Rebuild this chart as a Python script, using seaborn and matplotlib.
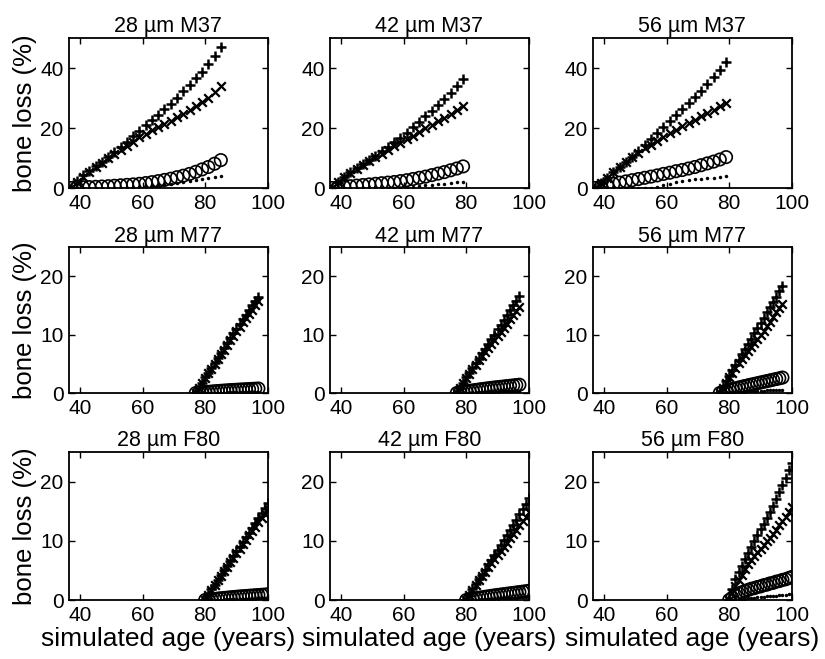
import matplotlib
matplotlib.use("Agg")
import matplotlib.pyplot as plt
import numpy as np
import pandas as pd
import seaborn as sns

# ---- data ----
titles = ["28 \u00b5m M37", "42 \u00b5m M37", "56 \u00b5m M37",
          "28 \u00b5m M77", "42 \u00b5m M77", "56 \u00b5m M77",
          "28 \u00b5m F80", "42 \u00b5m F80", "56 \u00b5m F80"]

age_m37_28 = [37, 39, 41, 43, 45, 47, 49, 51, 53, 55, 57, 59, 61, 63, 65, 67, 69, 71, 73, 75, 77, 79, 81, 83, 85]
plus_m37_28 = [0, 2.3, 4.2, 5.8, 7.3, 8.8, 10.2, 11.9, 13.7, 15.5, 17.3, 19.1, 20.9, 22.7, 24.5, 26.3, 28.1, 30.0, 32.2, 34.4, 36.6, 38.8, 41.3, 44.1, 47.0]
cross_m37_28 = [0, 2.0, 3.8, 5.4, 7.0, 8.5, 9.9, 11.3, 12.7, 14.1, 15.5, 16.9, 18.1, 19.2, 20.3, 21.4, 22.5, 23.6, 24.8, 26.0, 27.3, 28.6, 30.0, 32.0, 34.0]
circ_m37_28 = [0, 0.1, 0.2, 0.3, 0.4, 0.5, 0.6, 0.75, 0.9, 1.05, 1.2, 1.4, 1.65, 1.95, 2.3, 2.7, 3.1, 3.6, 4.1, 4.7, 5.4, 6.2, 7.0, 8.1, 9.3]
dot_m37_28 = [0, 0, 0, 0, 0, 0, 0, 0, 0, 0, 0.1, 0.2, 0.4, 0.6, 0.9, 1.2, 1.5, 1.8, 2.1, 2.4, 2.7, 3.0, 3.3, 3.6, 3.9]

age_m37_42 = [37, 39, 41, 43, 45, 47, 49, 51, 53, 55, 57, 59, 61, 63, 65, 67, 69, 71, 73, 75, 77, 79]
plus_m37_42 = [0, 2.0, 3.8, 5.3, 6.7, 8.1, 9.5, 10.8, 12.2, 13.7, 15.2, 16.8, 18.5, 20.3, 22.1, 23.9, 25.8, 27.7, 29.7, 31.8, 34.0, 36.5]
cross_m37_42 = [0, 2.0, 3.6, 5.0, 6.4, 7.7, 9.0, 10.3, 11.5, 12.7, 13.9, 15.1, 16.3, 17.5, 18.7, 19.9, 21.0, 22.2, 23.4, 24.7, 26.0, 27.5]
circ_m37_42 = [0, 0.2, 0.4, 0.6, 0.8, 1.0, 1.2, 1.4, 1.6, 1.8, 2.0, 2.3, 2.6, 3.0, 3.4, 3.8, 4.3, 4.8, 5.3, 5.9, 6.5, 7.2]
dot_m37_42 = [0, 0, 0, 0, 0, 0, 0, 0, 0, 0, 0, 0.1, 0.3, 0.5, 0.7, 0.9, 1.1, 1.3, 1.5, 1.7, 1.9, 2.1]

age_m37_56 = [37, 39, 41, 43, 45, 47, 49, 51, 53, 55, 57, 59, 61, 63, 65, 67, 69, 71, 73, 75, 77, 79]
plus_m37_56 = [0, 1.8, 3.5, 5.2, 6.9, 8.6, 10.3, 12.3, 14.3, 16.3, 18.3, 20.3, 22.3, 24.3, 26.3, 28.3, 30.4, 32.5, 34.7, 37.0, 39.4, 42.0]
cross_m37_56 = [0, 1.8, 3.5, 5.2, 6.9, 8.6, 10.2, 11.8, 13.2, 14.5, 15.8, 17.0, 18.2, 19.4, 20.6, 21.7, 22.8, 23.9, 25.0, 26.1, 27.2, 28.3]
circ_m37_56 = [0, 0.5, 1.0, 1.4, 1.8, 2.2, 2.6, 3.0, 3.4, 3.8, 4.2, 4.7, 5.1, 5.6, 6.0, 6.5, 7.0, 7.6, 8.2, 8.8, 9.5, 10.3]
dot_m37_56 = [0, 0, 0, 0, 0, 0, 0, 0, 0, 0, 0.5, 1.0, 1.5, 2.0, 2.4, 2.7, 2.9, 3.1, 3.3, 3.5, 3.7, 3.9]

age_m77 = [77, 78, 79, 80, 81, 82, 83, 84, 85, 86, 87, 88, 89, 90, 91, 92, 93, 94, 95, 96, 97]
plus_m77_28 = [0, 0.9, 1.8, 2.7, 3.5, 4.3, 5.2, 6.0, 6.9, 7.7, 8.6, 9.4, 10.2, 11.0, 11.8, 12.6, 13.4, 14.2, 15.0, 15.8, 16.5]
cross_m77_28 = [0, 0.9, 1.8, 2.6, 3.4, 4.2, 5.0, 5.8, 6.6, 7.4, 8.2, 9.0, 9.8, 10.6, 11.3, 12.1, 12.8, 13.6, 14.3, 15.1, 15.8]
circ_m77_28 = [0, 0.05, 0.1, 0.15, 0.2, 0.25, 0.3, 0.34, 0.38, 0.42, 0.46, 0.5, 0.53, 0.56, 0.59, 0.62, 0.65, 0.68, 0.71, 0.74, 0.77]
dot_m77_28 = [0, 0.01, 0.02, 0.03, 0.04, 0.05, 0.06, 0.07, 0.08, 0.09, 0.1, 0.11, 0.12, 0.13, 0.14, 0.15, 0.16, 0.17, 0.18, 0.19, 0.2]

plus_m77_42 = [0, 0.9, 1.8, 2.7, 3.5, 4.3, 5.1, 5.9, 6.8, 7.6, 8.4, 9.2, 10.0, 10.9, 11.7, 12.5, 13.3, 14.2, 15.0, 15.8, 16.6]
cross_m77_42 = [0, 0.9, 1.7, 2.5, 3.3, 4.1, 4.8, 5.6, 6.3, 7.0, 7.7, 8.4, 9.1, 9.8, 10.5, 11.2, 11.9, 12.6, 13.3, 14.0, 14.7]
circ_m77_42 = [0, 0.1, 0.2, 0.28, 0.36, 0.44, 0.52, 0.6, 0.67, 0.74, 0.81, 0.88, 0.95, 1.0, 1.06, 1.12, 1.18, 1.24, 1.3, 1.36, 1.42]
dot_m77_42 = [0, 0.02, 0.04, 0.06, 0.08, 0.1, 0.12, 0.14, 0.16, 0.18, 0.2, 0.22, 0.24, 0.26, 0.28, 0.3, 0.32, 0.34, 0.36, 0.38, 0.4]

plus_m77_56 = [0, 1.0, 2.0, 3.0, 3.9, 4.8, 5.7, 6.6, 7.5, 8.4, 9.3, 10.2, 11.1, 12.0, 12.9, 13.8, 14.7, 15.6, 16.5, 17.4, 18.3]
cross_m77_56 = [0, 0.9, 1.8, 2.7, 3.5, 4.3, 5.1, 5.8, 6.5, 7.2, 7.9, 8.6, 9.3, 10.0, 10.7, 11.4, 12.2, 13.0, 13.8, 14.5, 15.3]
circ_m77_56 = [0, 0.2, 0.35, 0.5, 0.65, 0.8, 0.94, 1.07, 1.2, 1.32, 1.44, 1.56, 1.68, 1.8, 1.92, 2.04, 2.16, 2.28, 2.4, 2.52, 2.65]
dot_m77_56 = [0, 0.03, 0.06, 0.09, 0.12, 0.15, 0.18, 0.21, 0.24, 0.27, 0.3, 0.33, 0.36, 0.39, 0.42, 0.45, 0.48, 0.51, 0.54, 0.57, 0.6]

age_f80 = [80, 81, 82, 83, 84, 85, 86, 87, 88, 89, 90, 91, 92, 93, 94, 95, 96, 97, 98, 99, 100]
plus_f80_28 = [0, 0.9, 1.8, 2.6, 3.4, 4.2, 5.0, 5.8, 6.6, 7.4, 8.2, 9.0, 9.8, 10.6, 11.4, 12.2, 13.0, 13.8, 14.7, 15.5, 16.4]
cross_f80_28 = [0, 0.9, 1.7, 2.5, 3.3, 4.1, 4.9, 5.6, 6.4, 7.1, 7.9, 8.6, 9.4, 10.1, 10.9, 11.6, 12.4, 13.1, 13.9, 14.6, 15.3]
circ_f80_28 = [0, 0.06, 0.12, 0.18, 0.24, 0.3, 0.35, 0.4, 0.45, 0.5, 0.55, 0.6, 0.64, 0.68, 0.72, 0.76, 0.8, 0.84, 0.88, 0.92, 0.96]
dot_f80_28 = [0, 0.02, 0.03, 0.05, 0.06, 0.08, 0.09, 0.11, 0.12, 0.14, 0.15, 0.17, 0.18, 0.2, 0.21, 0.23, 0.24, 0.26, 0.27, 0.29, 0.3]

plus_f80_42 = [0, 0.9, 1.8, 2.7, 3.5, 4.3, 5.1, 6.0, 6.8, 7.6, 8.5, 9.3, 10.1, 11.0, 11.8, 12.7, 13.6, 14.5, 15.4, 16.3, 17.3]
cross_f80_42 = [0, 0.9, 1.7, 2.5, 3.3, 4.1, 4.8, 5.5, 6.2, 6.9, 7.6, 8.3, 9.0, 9.7, 10.4, 11.1, 11.8, 12.6, 13.3, 14.0, 14.8]
circ_f80_42 = [0, 0.1, 0.2, 0.3, 0.38, 0.46, 0.54, 0.62, 0.7, 0.78, 0.85, 0.92, 0.99, 1.06, 1.13, 1.2, 1.27, 1.34, 1.41, 1.48, 1.55]
dot_f80_42 = [0, 0.03, 0.05, 0.08, 0.1, 0.13, 0.15, 0.18, 0.2, 0.23, 0.25, 0.28, 0.3, 0.33, 0.35, 0.38, 0.4, 0.43, 0.45, 0.48, 0.5]

plus_f80_56 = [0, 1.8, 3.5, 4.7, 5.8, 6.9, 8.0, 9.0, 10.0, 11.0, 12.0, 12.9, 13.8, 14.8, 15.9, 17.0, 18.2, 19.4, 20.6, 21.9, 23.2]
cross_f80_56 = [0, 1.2, 2.3, 3.3, 4.3, 5.2, 6.0, 6.8, 7.5, 8.1, 8.7, 9.3, 9.9, 10.5, 11.2, 11.9, 12.6, 13.3, 14.1, 14.9, 15.7]
circ_f80_56 = [0, 0.4, 0.8, 1.1, 1.3, 1.5, 1.7, 1.9, 2.0, 2.2, 2.3, 2.5, 2.6, 2.8, 2.9, 3.1, 3.2, 3.4, 3.5, 3.7, 3.9]
dot_f80_56 = [0, 0.05, 0.1, 0.15, 0.2, 0.25, 0.3, 0.35, 0.4, 0.45, 0.5, 0.55, 0.6, 0.65, 0.7, 0.75, 0.8, 0.85, 0.9, 0.95, 1.0]

panels = [
    (age_m37_28, plus_m37_28, cross_m37_28, circ_m37_28, dot_m37_28),
    (age_m37_42, plus_m37_42, cross_m37_42, circ_m37_42, dot_m37_42),
    (age_m37_56, plus_m37_56, cross_m37_56, circ_m37_56, dot_m37_56),
    (age_m77, plus_m77_28, cross_m77_28, circ_m77_28, dot_m77_28),
    (age_m77, plus_m77_42, cross_m77_42, circ_m77_42, dot_m77_42),
    (age_m77, plus_m77_56, cross_m77_56, circ_m77_56, dot_m77_56),
    (age_f80, plus_f80_28, cross_f80_28, circ_f80_28, dot_f80_28),
    (age_f80, plus_f80_42, cross_f80_42, circ_f80_42, dot_f80_42),
    (age_f80, plus_f80_56, cross_f80_56, circ_f80_56, dot_f80_56),
]

sns.set_style("ticks")
plt.rcParams['font.family'] = ['Liberation Sans', 'DejaVu Sans']
plt.rcParams['text.color'] = 'k'
plt.rcParams['axes.labelcolor'] = 'k'

fig = plt.figure(figsize=(8.25, 6.59), dpi=100)

lefts = [0.0836, 0.400, 0.7188]
bottoms = [0.7147, 0.4036, 0.0895]
heights = [0.2276, 0.2215, 0.2246]

for i, (age, plus, cross, circ, dot) in enumerate(panels):
    r, c = divmod(i, 3)
    ax = fig.add_axes([lefts[c], bottoms[r], 0.241, heights[r]])

    sns.scatterplot(x=age, y=dot, marker='.', color='k', s=25, linewidth=0, ax=ax, zorder=2)
    sns.scatterplot(x=age, y=circ, marker='o', color='k', facecolor='none', edgecolor='k',
                    s=80, linewidth=1.2, ax=ax, zorder=3)
    sns.scatterplot(x=age, y=cross, marker='x', color='k', s=38, linewidth=1.6, ax=ax, zorder=4)
    sns.scatterplot(x=age, y=plus, marker='+', color='k', s=48, linewidth=1.8, ax=ax, zorder=5)

    ax.set_xlim(36.5, 100)
    ax.set_xticks([40, 60, 80, 100])
    if r == 0:
        ax.set_ylim(0, 50)
        ax.set_yticks([0, 20, 40])
    else:
        ax.set_ylim(0, 25)
        ax.set_yticks([0, 10, 20])

    for sp in ax.spines.values():
        sp.set_visible(True)
        sp.set_linewidth(1.3)
        sp.set_color('k')
    ax.tick_params(direction='in', length=4, width=1, labelsize=15, pad=4,
                   top=True, right=True, colors='k')
    ax.set_title(titles[i], fontsize=15.5, pad=4, color='k')

    if c == 0:
        ax.set_ylabel("bone loss (%)", fontsize=18.5, labelpad=2)
    if r == 2:
        ax.set_xlabel("simulated age (years)", fontsize=19, labelpad=2)

fig.savefig("out.png", dpi=100)
